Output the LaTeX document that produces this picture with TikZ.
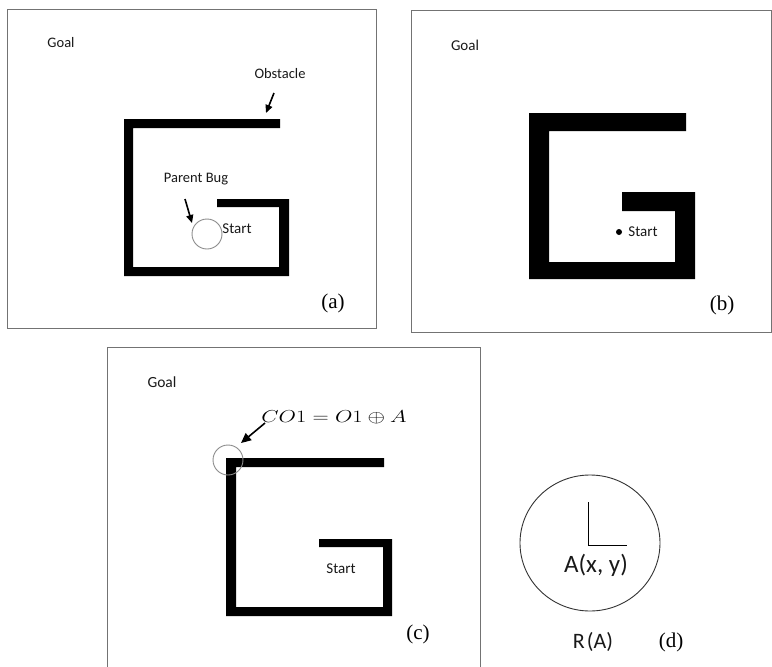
\documentclass[tikz,border=0pt]{standalone}
\usepackage{fontspec}
\setmainfont{Carlito}
\newfontfamily\timesf{Liberation Serif}
\usetikzlibrary{arrows.meta}
\tikzset{
  frame/.style={draw=black!55, line width=0.9pt},
  wall/.style={fill=black, draw=none},
  lbl/.style={inner sep=0pt, text=black!90, font=\fontsize{14.5}{16}\selectfont},
  tag/.style={inner sep=0pt, font=\timesf\fontsize{21}{23}\selectfont},
  bug/.style={draw=black!45, line width=0.9pt, fill=none},
  pointer/.style={line width=1.6pt, -{Triangle[length=8pt,width=7pt]}}
}
\begin{document}
\begin{tikzpicture}[x=1pt,y=-1pt]
\useasboundingbox (0,0) rectangle (772,667);
\fill[white] (0,0) rectangle (772,667);
% ---------- panel (a)
\draw[frame] (7,9) rectangle (376,328);
\node[lbl] (goalA) at (61,43) {Goal};
\node[lbl] (obsA) at (280,74) {Obstacle};
\fill[wall] (124,119) -- (280,119) -- (280,128) -- (133,128) -- (133,267) -- (279,267) -- (279,207) -- (217,207) -- (217,199) -- (289,199) -- (289,276) -- (124,276) -- cycle;
\coordinate (obsAtip) at (266,113);
\coordinate (obsAtail) at (274,93);
\draw[pointer] (obsAtail) -- (obsAtip);
\node[lbl] (parent) at (196,179) {Parent Bug};
\node[bug, circle, minimum size=30pt, inner sep=0pt] (bugA) at (207,234) {};
\coordinate (parTail) at (185,199);
\coordinate (parTip) at (192,223);
\draw[pointer] (parTail) -- (parTip);
\node[lbl, font=\fontsize{15}{17}\selectfont] (startA) at (237,229) {Start};
\node[tag] (tagA) at (333,303) {(a)};
% ---------- panel (b)
\draw[frame] (411,10) -- (771,10) -- (771,332) -- (411,332) -- cycle;
\node[lbl, font=\fontsize{15}{17}\selectfont] (goalB) at (465,45) {Goal};
\fill[wall] (529,113) -- (686,113) -- (686,131) -- (549,131) -- (549,262) -- (675,262) -- (675,211) -- (622,211) -- (622,192) -- (695,192) -- (695,279) -- (529,279) -- cycle;
\fill[black] (619,232) circle (3);
\node[lbl, font=\fontsize{15}{17}\selectfont] (startB) at (643,232) {Start};
\node[tag] (tagB) at (722,305) {(b)};
% ---------- panel (c)
\draw[frame] (107,667) -- (107,347) -- (480,347) -- (480,667);
\node[lbl, font=\fontsize{15.5}{17}\selectfont] (goalC) at (162,382) {Goal};
\node[inner sep=0pt, font=\fontsize{16.5}{19}\selectfont] (eq) at (334,417) {\scalebox{1.3}[1]{$CO1 = O1 \oplus A$}};
\fill[wall] (226,458) -- (384,458) -- (384,467) -- (236,467) -- (236,607) -- (383,607) -- (383,547) -- (319,547) -- (319,539) -- (392,539) -- (392,616) -- (226,616) -- cycle;
\node[bug, circle, minimum size=30pt, inner sep=0pt] (bugC) at (228,460) {};
\coordinate (eqTail) at (265,423);
\coordinate (eqTip) at (241,443);
\draw[pointer, -{Triangle[length=10pt,width=9pt]}] (eqTail) -- (eqTip);
\node[lbl, font=\fontsize{15}{17}\selectfont] (startC) at (341,569) {Start};
\node[tag] (tagC) at (418,634) {(c)};
% ---------- panel (d)
\draw[black!80, line width=0.9pt] (590,543) ellipse [x radius=70, y radius=68];
\coordinate (Ltop) at (588,502);
\coordinate (Lcorner) at (588,545);
\coordinate (Lright) at (627,545);
\draw[line width=1pt] (Ltop) -- (Lcorner) -- (Lright);
\node[lbl, font=\fontsize{25}{27}\selectfont] (Axy) at (596,565) {A(x, y)};
\node[lbl, font=\fontsize{22}{24}\selectfont] (RA) at (593,642) {R\hspace{2pt}(A)};
\node[tag] (tagD) at (671,642) {(d)};
\end{tikzpicture}
\end{document}
